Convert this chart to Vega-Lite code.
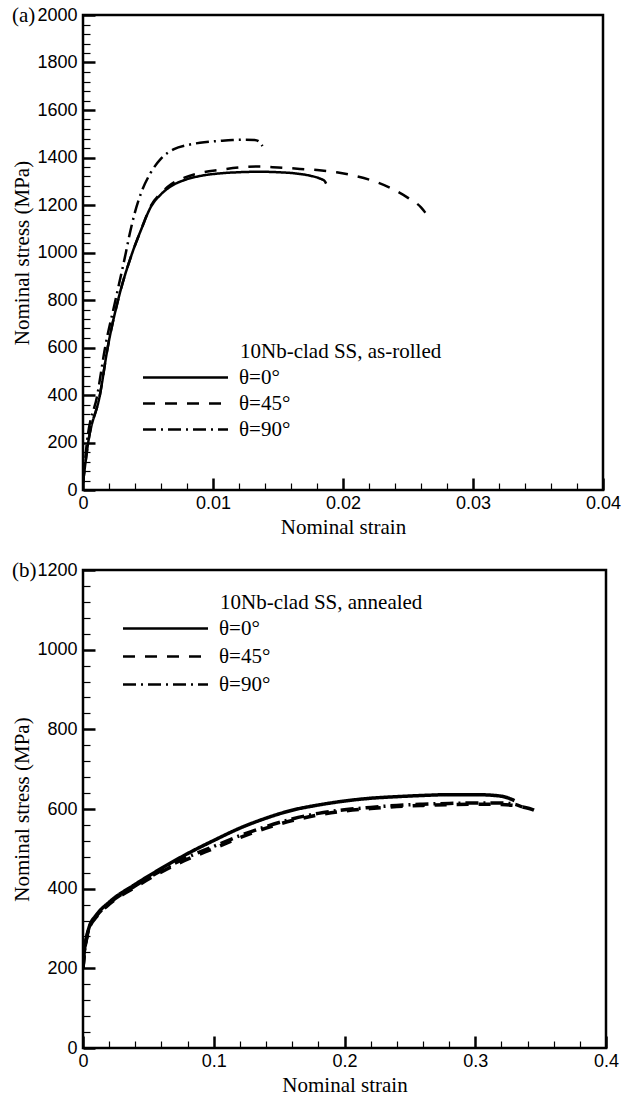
{
  "$schema": "https://vega.github.io/schema/vega-lite/v6.json",
  "padding": {"left": 10, "top": 3, "right": 5, "bottom": 5},
  "background": "white",
  "config": {
    "view": {"stroke": "black", "strokeWidth": 2.5},
    "axis": {
      "domain": false, "tickColor": "black", "grid": false, "ticks": true,
      "labelFont": "Liberation Sans", "labelFontSize": 18, "labelColor": "black",
      "titleFont": "Liberation Serif", "titleFontSize": 21, "titleFontWeight": "normal", "titleColor": "black"
    },
    "legend": {
      "orient": "none", "titleFont": "Liberation Serif", "titleFontSize": 21, "titleFontWeight": "normal", "titleColor": "black",
      "labelFont": "Liberation Serif", "labelFontSize": 21, "labelColor": "black",
      "symbolType": "M-4.25,0H4.25", "symbolSize": 400, "symbolStrokeWidth": 2.5, "symbolStrokeColor": "black",
      "labelOffset": 42, "symbolOffset": -66, "rowPadding": 4, "titlePadding": 4, "titleLimit": 400
    },
    "title": {"font": "Liberation Serif", "fontSize": 21, "fontWeight": "normal", "color": "black"}
  },
  "resolve": {"scale": {"strokeDash": "independent"}},
  "spacing": 19,
  "vconcat": [
    {
      "width": 520, "height": 475,
      "title": {"text": "(a)", "anchor": "start", "frame": "bounds", "offset": -20},
      "data": {"values": [
        {"theta": "θ=0°", "strain": 0, "stress": 30},
        {"theta": "θ=0°", "strain": 0.0004, "stress": 200},
        {"theta": "θ=0°", "strain": 0.0013, "stress": 400},
        {"theta": "θ=0°", "strain": 0.0019, "stress": 600},
        {"theta": "θ=0°", "strain": 0.0027, "stress": 800},
        {"theta": "θ=0°", "strain": 0.0038, "stress": 1000},
        {"theta": "θ=0°", "strain": 0.0045, "stress": 1100},
        {"theta": "θ=0°", "strain": 0.0052, "stress": 1190},
        {"theta": "θ=0°", "strain": 0.006, "stress": 1245},
        {"theta": "θ=0°", "strain": 0.0068, "stress": 1280},
        {"theta": "θ=0°", "strain": 0.0078, "stress": 1305},
        {"theta": "θ=0°", "strain": 0.009, "stress": 1322},
        {"theta": "θ=0°", "strain": 0.0105, "stress": 1333},
        {"theta": "θ=0°", "strain": 0.012, "stress": 1338},
        {"theta": "θ=0°", "strain": 0.0135, "stress": 1340},
        {"theta": "θ=0°", "strain": 0.015, "stress": 1338},
        {"theta": "θ=0°", "strain": 0.0165, "stress": 1332},
        {"theta": "θ=0°", "strain": 0.0175, "stress": 1323},
        {"theta": "θ=0°", "strain": 0.0182, "stress": 1312},
        {"theta": "θ=0°", "strain": 0.0186, "stress": 1300},
        {"theta": "θ=0°", "strain": 0.0187, "stress": 1290},
        {"theta": "θ=45°", "strain": 0, "stress": 30},
        {"theta": "θ=45°", "strain": 0.0004, "stress": 200},
        {"theta": "θ=45°", "strain": 0.0013, "stress": 400},
        {"theta": "θ=45°", "strain": 0.0019, "stress": 600},
        {"theta": "θ=45°", "strain": 0.0027, "stress": 800},
        {"theta": "θ=45°", "strain": 0.0038, "stress": 1000},
        {"theta": "θ=45°", "strain": 0.0045, "stress": 1100},
        {"theta": "θ=45°", "strain": 0.0052, "stress": 1195},
        {"theta": "θ=45°", "strain": 0.006, "stress": 1250},
        {"theta": "θ=45°", "strain": 0.0068, "stress": 1288},
        {"theta": "θ=45°", "strain": 0.0078, "stress": 1315},
        {"theta": "θ=45°", "strain": 0.009, "stress": 1335},
        {"theta": "θ=45°", "strain": 0.0105, "stress": 1348},
        {"theta": "θ=45°", "strain": 0.012, "stress": 1358},
        {"theta": "θ=45°", "strain": 0.0135, "stress": 1362},
        {"theta": "θ=45°", "strain": 0.015, "stress": 1358},
        {"theta": "θ=45°", "strain": 0.0167, "stress": 1352},
        {"theta": "θ=45°", "strain": 0.018, "stress": 1347},
        {"theta": "θ=45°", "strain": 0.0195, "stress": 1338},
        {"theta": "θ=45°", "strain": 0.021, "stress": 1322},
        {"theta": "θ=45°", "strain": 0.0225, "stress": 1298},
        {"theta": "θ=45°", "strain": 0.024, "stress": 1262},
        {"theta": "θ=45°", "strain": 0.025, "stress": 1230},
        {"theta": "θ=45°", "strain": 0.026, "stress": 1190},
        {"theta": "θ=45°", "strain": 0.0263, "stress": 1170},
        {"theta": "θ=45°", "strain": 0.0266, "stress": 1145},
        {"theta": "θ=90°", "strain": 0, "stress": 30},
        {"theta": "θ=90°", "strain": 0.0003, "stress": 200},
        {"theta": "θ=90°", "strain": 0.0011, "stress": 400},
        {"theta": "θ=90°", "strain": 0.0017, "stress": 600},
        {"theta": "θ=90°", "strain": 0.0025, "stress": 800},
        {"theta": "θ=90°", "strain": 0.0033, "stress": 1000},
        {"theta": "θ=90°", "strain": 0.0036, "stress": 1080},
        {"theta": "θ=90°", "strain": 0.004, "stress": 1170},
        {"theta": "θ=90°", "strain": 0.0045, "stress": 1255},
        {"theta": "θ=90°", "strain": 0.0052, "stress": 1335},
        {"theta": "θ=90°", "strain": 0.006, "stress": 1395},
        {"theta": "θ=90°", "strain": 0.007, "stress": 1435},
        {"theta": "θ=90°", "strain": 0.008, "stress": 1452},
        {"theta": "θ=90°", "strain": 0.009, "stress": 1462},
        {"theta": "θ=90°", "strain": 0.0105, "stress": 1470},
        {"theta": "θ=90°", "strain": 0.0115, "stress": 1474},
        {"theta": "θ=90°", "strain": 0.0125, "stress": 1475},
        {"theta": "θ=90°", "strain": 0.0132, "stress": 1474},
        {"theta": "θ=90°", "strain": 0.0136, "stress": 1465},
        {"theta": "θ=90°", "strain": 0.0138, "stress": 1448}
      ]},
      "resolve": {"axis": {"x": "independent", "y": "independent"}},
      "layer": [
        {
          "mark": {"type": "line", "color": "black", "strokeWidth": 2.5, "clip": true, "interpolate": "monotone"},
          "encoding": {
            "x": {"field": "strain", "type": "quantitative",
              "scale": {"domain": [0, 0.04], "nice": false, "zero": false},
              "axis": {"orient": "bottom", "title": "Nominal strain", "values": [0, 0.01, 0.02, 0.03, 0.04], "format": "~g",
                "offset": -12, "tickSize": 12, "tickWidth": 2.5, "labelPadding": 4, "titlePadding": 4, "labelFlush": false}},
            "y": {"field": "stress", "type": "quantitative",
              "scale": {"domain": [0, 2000], "nice": false},
              "axis": {"orient": "left", "title": "Nominal stress (MPa)", "values": [0, 200, 400, 600, 800, 1000, 1200, 1400, 1600, 1800, 2000], "format": "d",
                "offset": -12, "tickSize": 12, "tickWidth": 2.5, "labelPadding": 6, "titlePadding": 4, "labelFlush": false}},
            "strokeDash": {"field": "theta", "type": "nominal",
              "scale": {"domain": ["θ=0°", "θ=45°", "θ=90°"], "range": [[1, 0], [12, 10], [13, 5, 2, 5]]},
              "legend": {"title": "10Nb-clad SS, as-rolled", "legendX": 157, "legendY": 326}},
            "order": {"field": "strain", "type": "quantitative"}
          }
        },
        {
          "mark": {"type": "point", "opacity": 0},
          "encoding": {
            "x": {"field": "strain", "type": "quantitative",
              "axis": {"orient": "bottom", "title": null, "labels": false, "offset": -7,
                "values": [0.002, 0.004, 0.006, 0.008, 0.012, 0.014, 0.016, 0.018, 0.022, 0.024, 0.026, 0.028, 0.032, 0.034, 0.036, 0.038],
                "tickSize": 7, "tickWidth": 1.2}},
            "y": {"field": "stress", "type": "quantitative",
              "axis": {"orient": "left", "title": null, "labels": false, "offset": -7,
                "values": [40, 80, 120, 160, 240, 280, 320, 360, 440, 480, 520, 560, 640, 680, 720, 760, 840, 880, 920, 960, 1040, 1080, 1120, 1160, 1240, 1280, 1320, 1360, 1440, 1480, 1520, 1560, 1640, 1680, 1720, 1760, 1840, 1880, 1920, 1960],
                "tickSize": 7, "tickWidth": 1.2}}
          }
        }
      ]
    },
    {
      "width": 523, "height": 478,
      "title": {"text": "(b)", "anchor": "start", "frame": "bounds", "offset": -20},
      "data": {"values": [
        {"theta": "θ=0°", "strain": 0, "stress": 200},
        {"theta": "θ=0°", "strain": 0.001, "stress": 242},
        {"theta": "θ=0°", "strain": 0.003, "stress": 282},
        {"theta": "θ=0°", "strain": 0.005, "stress": 306},
        {"theta": "θ=0°", "strain": 0.01, "stress": 333},
        {"theta": "θ=0°", "strain": 0.02, "stress": 366},
        {"theta": "θ=0°", "strain": 0.04, "stress": 411},
        {"theta": "θ=0°", "strain": 0.06, "stress": 451},
        {"theta": "θ=0°", "strain": 0.08, "stress": 488},
        {"theta": "θ=0°", "strain": 0.1, "stress": 521},
        {"theta": "θ=0°", "strain": 0.12, "stress": 552},
        {"theta": "θ=0°", "strain": 0.14, "stress": 577},
        {"theta": "θ=0°", "strain": 0.16, "stress": 597},
        {"theta": "θ=0°", "strain": 0.18, "stress": 610},
        {"theta": "θ=0°", "strain": 0.2, "stress": 620},
        {"theta": "θ=0°", "strain": 0.22, "stress": 627},
        {"theta": "θ=0°", "strain": 0.24, "stress": 631},
        {"theta": "θ=0°", "strain": 0.26, "stress": 634},
        {"theta": "θ=0°", "strain": 0.28, "stress": 636},
        {"theta": "θ=0°", "strain": 0.3, "stress": 636},
        {"theta": "θ=0°", "strain": 0.315, "stress": 634},
        {"theta": "θ=0°", "strain": 0.325, "stress": 628},
        {"theta": "θ=0°", "strain": 0.33, "stress": 621},
        {"theta": "θ=45°", "strain": 0, "stress": 200},
        {"theta": "θ=45°", "strain": 0.001, "stress": 238},
        {"theta": "θ=45°", "strain": 0.003, "stress": 278},
        {"theta": "θ=45°", "strain": 0.005, "stress": 302},
        {"theta": "θ=45°", "strain": 0.01, "stress": 328},
        {"theta": "θ=45°", "strain": 0.02, "stress": 361},
        {"theta": "θ=45°", "strain": 0.04, "stress": 404},
        {"theta": "θ=45°", "strain": 0.06, "stress": 442},
        {"theta": "θ=45°", "strain": 0.08, "stress": 474},
        {"theta": "θ=45°", "strain": 0.1, "stress": 501},
        {"theta": "θ=45°", "strain": 0.12, "stress": 528},
        {"theta": "θ=45°", "strain": 0.14, "stress": 552},
        {"theta": "θ=45°", "strain": 0.16, "stress": 571},
        {"theta": "θ=45°", "strain": 0.18, "stress": 585},
        {"theta": "θ=45°", "strain": 0.2, "stress": 595},
        {"theta": "θ=45°", "strain": 0.22, "stress": 601},
        {"theta": "θ=45°", "strain": 0.24, "stress": 606},
        {"theta": "θ=45°", "strain": 0.26, "stress": 609},
        {"theta": "θ=45°", "strain": 0.28, "stress": 611},
        {"theta": "θ=45°", "strain": 0.3, "stress": 612},
        {"theta": "θ=45°", "strain": 0.32, "stress": 611},
        {"theta": "θ=45°", "strain": 0.335, "stress": 606},
        {"theta": "θ=45°", "strain": 0.345, "stress": 597},
        {"theta": "θ=45°", "strain": 0.35, "stress": 588},
        {"theta": "θ=90°", "strain": 0, "stress": 200},
        {"theta": "θ=90°", "strain": 0.001, "stress": 240},
        {"theta": "θ=90°", "strain": 0.003, "stress": 280},
        {"theta": "θ=90°", "strain": 0.005, "stress": 304},
        {"theta": "θ=90°", "strain": 0.01, "stress": 330},
        {"theta": "θ=90°", "strain": 0.02, "stress": 363},
        {"theta": "θ=90°", "strain": 0.04, "stress": 407},
        {"theta": "θ=90°", "strain": 0.06, "stress": 446},
        {"theta": "θ=90°", "strain": 0.08, "stress": 479},
        {"theta": "θ=90°", "strain": 0.1, "stress": 506},
        {"theta": "θ=90°", "strain": 0.12, "stress": 533},
        {"theta": "θ=90°", "strain": 0.14, "stress": 556},
        {"theta": "θ=90°", "strain": 0.16, "stress": 575},
        {"theta": "θ=90°", "strain": 0.18, "stress": 589},
        {"theta": "θ=90°", "strain": 0.2, "stress": 598},
        {"theta": "θ=90°", "strain": 0.22, "stress": 604},
        {"theta": "θ=90°", "strain": 0.24, "stress": 609},
        {"theta": "θ=90°", "strain": 0.26, "stress": 612},
        {"theta": "θ=90°", "strain": 0.28, "stress": 614},
        {"theta": "θ=90°", "strain": 0.3, "stress": 615},
        {"theta": "θ=90°", "strain": 0.32, "stress": 615},
        {"theta": "θ=90°", "strain": 0.33, "stress": 612},
        {"theta": "θ=90°", "strain": 0.336, "stress": 605}
      ]},
      "resolve": {"axis": {"x": "independent", "y": "independent"}},
      "layer": [
        {
          "mark": {"type": "line", "color": "black", "strokeWidth": 3.5, "clip": true, "interpolate": "monotone"},
          "encoding": {
            "x": {"field": "strain", "type": "quantitative",
              "scale": {"domain": [0, 0.4], "nice": false, "zero": false},
              "axis": {"orient": "bottom", "title": "Nominal strain", "values": [0, 0.1, 0.2, 0.3, 0.4], "format": "~g",
                "offset": -12, "tickSize": 12, "tickWidth": 2.5, "labelPadding": 4, "titlePadding": 4, "labelFlush": false}},
            "y": {"field": "stress", "type": "quantitative",
              "scale": {"domain": [0, 1200], "nice": false},
              "axis": {"orient": "left", "title": "Nominal stress (MPa)", "values": [0, 200, 400, 600, 800, 1000, 1200], "format": "d",
                "offset": -12, "tickSize": 12, "tickWidth": 2.5, "labelPadding": 6, "titlePadding": 4, "labelFlush": false}},
            "strokeDash": {"field": "theta", "type": "nominal",
              "scale": {"domain": ["θ=0°", "θ=45°", "θ=90°"], "range": [[1, 0], [12, 10], [13, 5, 2, 5]]},
              "legend": {"title": "10Nb-clad SS, annealed", "legendX": 137, "legendY": 22, "rowPadding": 6}},
            "order": {"field": "strain", "type": "quantitative"}
          }
        },
        {
          "mark": {"type": "point", "opacity": 0},
          "encoding": {
            "x": {"field": "strain", "type": "quantitative",
              "axis": {"orient": "bottom", "title": null, "labels": false, "offset": -7,
                "values": [0.02, 0.04, 0.06, 0.08, 0.12, 0.14, 0.16, 0.18, 0.22, 0.24, 0.26, 0.28, 0.32, 0.34, 0.36, 0.38],
                "tickSize": 7, "tickWidth": 1.2}},
            "y": {"field": "stress", "type": "quantitative",
              "axis": {"orient": "left", "title": null, "labels": false, "offset": -7,
                "values": [40, 80, 120, 160, 240, 280, 320, 360, 440, 480, 520, 560, 640, 680, 720, 760, 840, 880, 920, 960, 1040, 1080, 1120, 1160],
                "tickSize": 7, "tickWidth": 1.2}}
          }
        }
      ]
    }
  ]
}
